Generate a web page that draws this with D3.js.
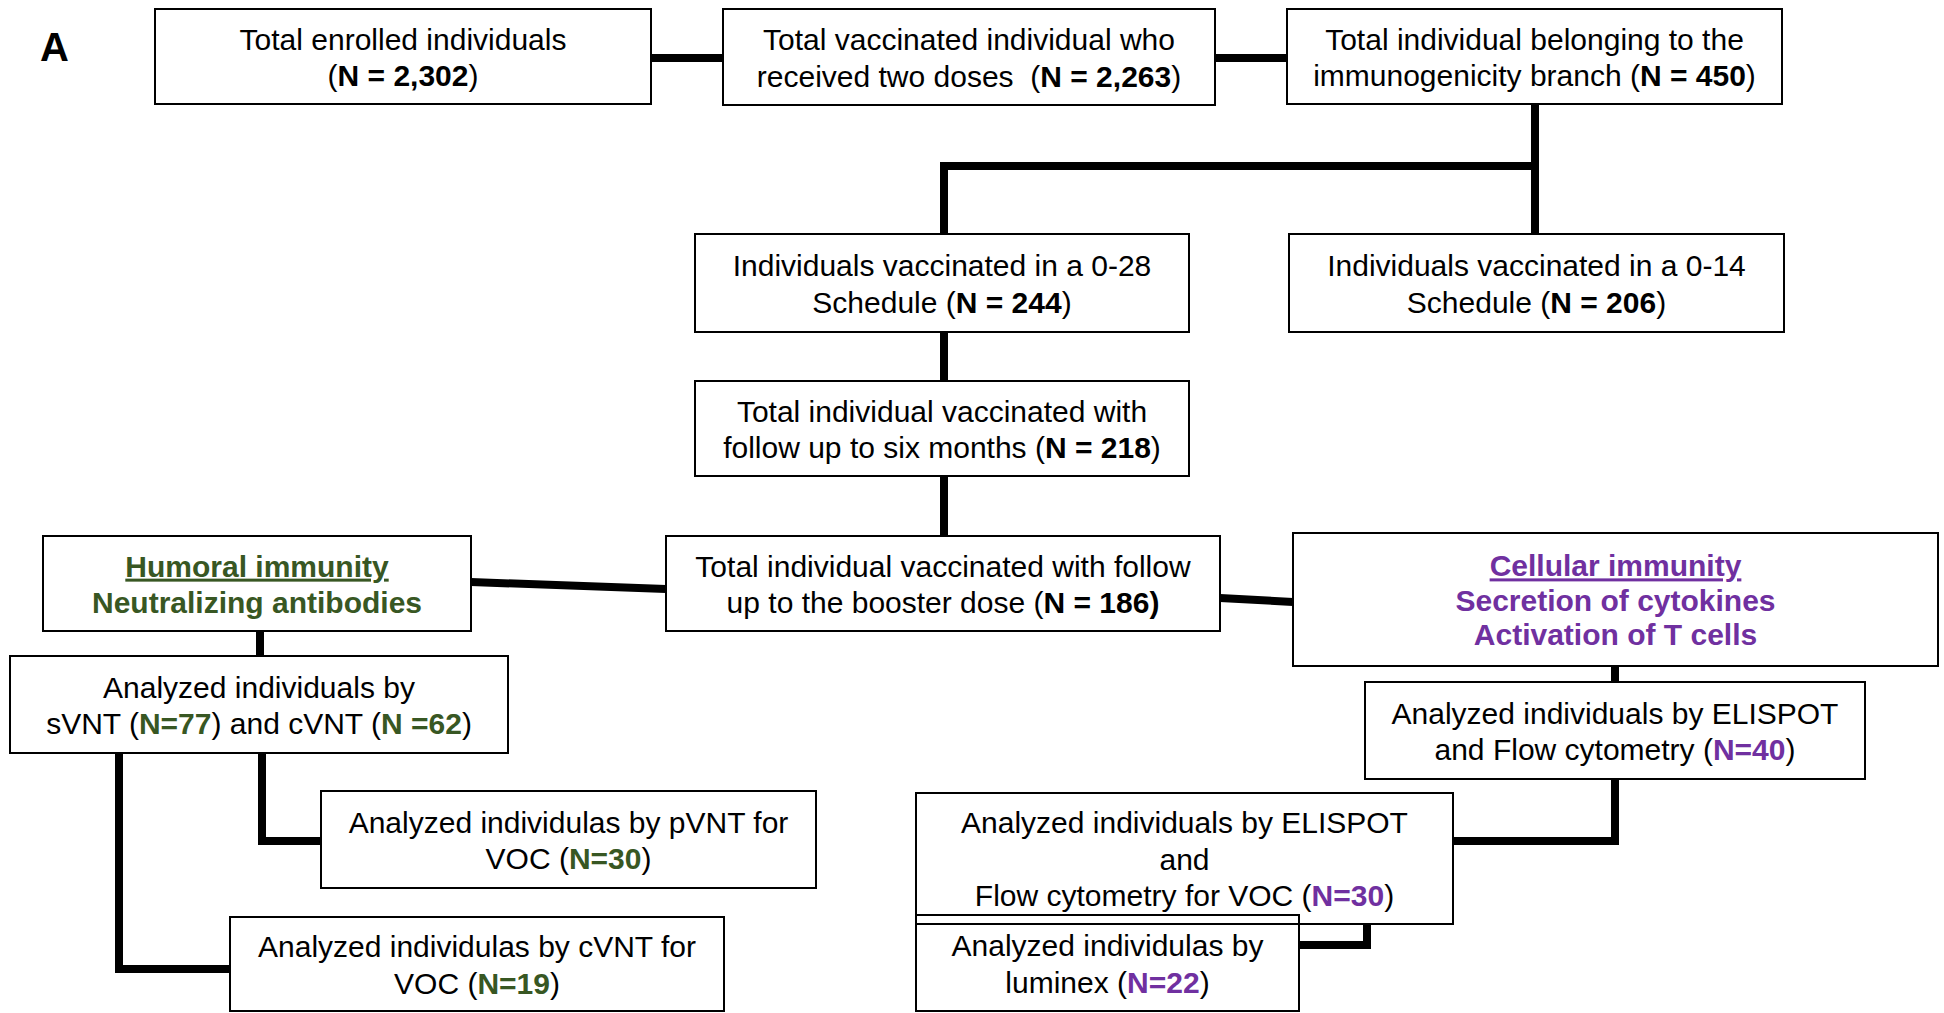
<!DOCTYPE html>
<html>
<head>
<meta charset="utf-8">
<script src="https://cdn.jsdelivr.net/npm/d3@7"></script>
<style>
  body { margin: 0; background: #fff; }
  svg text { font-family: "Liberation Sans", Arial, sans-serif; white-space: pre; }
</style>
</head>
<body>
<div id="chart"></div>
<script>
// text of every box: one array per line, each line a list of [text, style] runs
// styles: "" plain, "b" bold, "g" green bold, "p" purple bold, "gu"/"pu" underlined
const boxIds = ["enrolled", "twoDoses", "immuno", "s028", "s014", "sixMonths", "booster",
  "humoral", "cellular", "svnt", "elispot", "pvnt", "cvnt", "elispotVoc", "luminex"];

const boxText = {
  enrolled:   [[["Total enrolled individuals"]], [["("], ["N = 2,302", "b"], [")"]]],
  twoDoses:   [[["Total vaccinated individual who"]], [["received two doses  ("], ["N = 2,263", "b"], [")"]]],
  immuno:     [[["Total individual belonging to the"]], [["immunogenicity branch ("], ["N = 450", "b"], [")"]]],
  s028:       [[["Individuals vaccinated in a 0-28"]], [["Schedule ("], ["N = 244", "b"], [")"]]],
  s014:       [[["Individuals vaccinated in a 0-14"]], [["Schedule ("], ["N = 206", "b"], [")"]]],
  sixMonths:  [[["Total individual vaccinated with"]], [["follow up to six months ("], ["N = 218", "b"], [")"]]],
  booster:    [[["Total individual vaccinated with follow"]], [["up to the booster dose ("], ["N = 186)", "b"]]],
  humoral:    [[["Humoral immunity", "gu"]], [["Neutralizing antibodies", "g"]]],
  cellular:   [[["Cellular immunity", "pu"]], [["Secretion of cytokines", "p"]], [["Activation of T cells", "p"]]],
  svnt:       [[["Analyzed individuals by"]], [["sVNT ("], ["N=77", "g"], [") and cVNT ("], ["N =62", "g"], [")"]]],
  elispot:    [[["Analyzed individuals by ELISPOT"]], [["and Flow cytometry ("], ["N=40", "p"], [")"]]],
  pvnt:       [[["Analyzed individulas by pVNT for"]], [["VOC ("], ["N=30", "g"], [")"]]],
  cvnt:       [[["Analyzed individulas by cVNT for"]], [["VOC ("], ["N=19", "g"], [")"]]],
  elispotVoc: [[["Analyzed individuals by ELISPOT"]], [["and"]], [["Flow cytometry for VOC ("], ["N=30", "p"], [")"]]],
  luminex:    [[["Analyzed individulas by"]], [["luminex ("], ["N=22", "p"], [")"]]]
};

// which box leads to which
const links = [
  ["enrolled", "twoDoses"], ["twoDoses", "immuno"], ["immuno", "s014"], ["immuno", "s028"],
  ["s028", "sixMonths"], ["sixMonths", "booster"], ["booster", "humoral"], ["booster", "cellular"],
  ["humoral", "svnt"], ["cellular", "elispot"], ["svnt", "pvnt"], ["svnt", "cvnt"],
  ["elispot", "elispotVoc"], ["elispotVoc", "luminex"]
];

const panelLabel = "A";

// ---- layout (page pixels) ----
const W = 1944, H = 1013;
const frame = {
  enrolled: [155, 9, 651, 104],   twoDoses: [723, 9, 1215, 105],   immuno: [1287, 9, 1782, 104],
  s028: [695, 234, 1189, 332],    s014: [1289, 234, 1784, 332],
  sixMonths: [695, 381, 1189, 476], booster: [666, 536, 1220, 631],
  humoral: [43, 536, 471, 631],   cellular: [1293, 533, 1938, 666],
  svnt: [10, 656, 508, 753],      elispot: [1365, 682, 1865, 779],
  pvnt: [321, 791, 816, 888],     cvnt: [230, 917, 724, 1011],
  elispotVoc: [916, 793, 1453, 924], luminex: [916, 915, 1299, 1011]
};
// elbow routes for each link, same order as links
const routes = [
  [[651, 58], [723, 58]], [[1215, 58], [1287, 58]], [[1535, 104], [1535, 234]],
  [[1535, 166], [944, 166], [944, 234]],
  [[944, 332], [944, 381]], [[944, 476], [944, 536]],
  [[666, 589], [471, 582]], [[1220, 598], [1293, 602]],
  [[260, 631], [260, 656]], [[1615, 666], [1615, 682]],
  [[262, 753], [262, 841], [321, 841]], [[119, 753], [119, 969], [230, 969]],
  [[1615, 779], [1615, 841], [1453, 841]], [[1367, 924], [1367, 945], [1299, 945]]
];

const FS = 30, LH = 36.5;
const lineGap = { cellular: 34.5 };
const colors = { g: "#385723", p: "#7030a0" };

const svg = d3.select("#chart").append("svg").attr("width", W).attr("height", H);

const line = d3.line();
svg.append("g").selectAll("path")
  .data(links.map((l, i) => routes[i]))
  .join("path")
  .attr("d", line)
  .attr("fill", "none")
  .attr("stroke", "#000")
  .attr("stroke-width", 8);

const nodes = svg.append("g").selectAll("g")
  .data(boxIds)
  .join("g");

nodes.append("rect")
  .attr("x", d => frame[d][0]).attr("y", d => frame[d][1])
  .attr("width", d => frame[d][2] - frame[d][0])
  .attr("height", d => frame[d][3] - frame[d][1])
  .attr("fill", "none")
  .attr("stroke", "#000")
  .attr("stroke-width", 2);

nodes.each(function (id) {
  let f = frame[id],
    cx = (f[0] + f[2]) / 2,
    cy = (f[1] + f[3]) / 2,
    lh = lineGap[id] || LH,
    rows = boxText[id];
  rows.forEach((runs, i) => {
    let t = d3.select(this).append("text")
      .attr("x", cx)
      .attr("y", cy + (i - (rows.length - 1) / 2) * lh + 0.38 * FS)
      .attr("text-anchor", "middle")
      .attr("font-size", FS);
    runs.forEach(r => {
      let st = r[1] || "";
      let s = t.append("tspan").text(r[0]);
      if (st) s.attr("font-weight", "bold");
      if (colors[st[0]]) s.attr("fill", colors[st[0]]);
      if (st[1] === "u") s.attr("text-decoration", "underline");
    });
  });
});

svg.append("text")
  .attr("x", 40).attr("y", 61)
  .attr("font-size", 40).attr("font-weight", "bold")
  .text(panelLabel);
</script>
</body>
</html>
